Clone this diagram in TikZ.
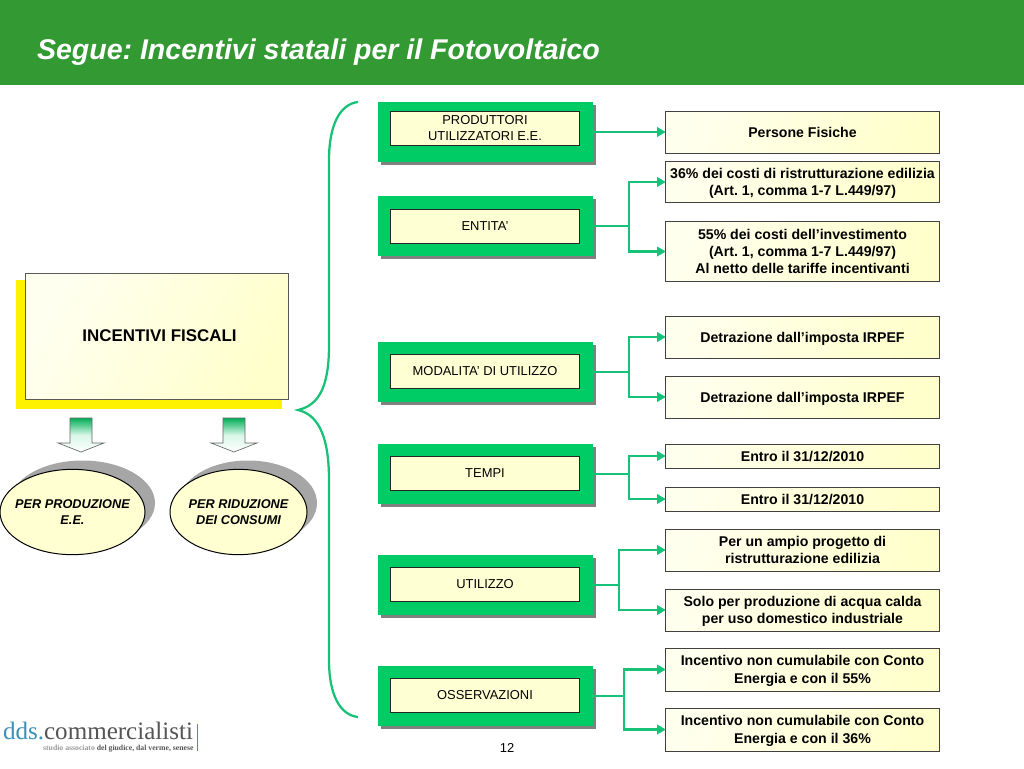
\documentclass[tikz,border=0pt]{standalone}
\usepackage{fontspec}
\setmainfont{Liberation Sans}
\newfontfamily\logofont{Liberation Serif}
\usetikzlibrary{shadows,arrows.meta,calc,shapes.geometric}
\definecolor{headgreen}{HTML}{339933}
\definecolor{boxgreen}{HTML}{00CC66}
\definecolor{linegreen}{HTML}{17C278}
\definecolor{paleyellow}{HTML}{FFFFCC}
\definecolor{logoblue}{HTML}{3C8FB8}
\definecolor{logogray}{HTML}{555555}
\tikzset{
  x=0.75pt,y=-0.75pt,
  every node/.style={inner sep=0pt,outer sep=0pt,align=center,font=\fontsize{9.7}{12.4}\selectfont\frenchspacing},
  greenbox/.style={fill=boxgreen,minimum width=161.25pt,minimum height=45pt,
    drop shadow={shadow xshift=2.5pt,shadow yshift=-2.5pt,opacity=1,fill=black!50}},
  innerbox/.style={draw=black!85,line width=0.7pt,fill=paleyellow!85,minimum width=142pt,minimum height=25.5pt,text depth=-1.5pt},
  infobox/.style={draw=black!75,line width=0.75pt,left color=white!65!paleyellow,right color=paleyellow,shading angle=70,
    minimum width=205pt,text depth=0pt,font=\fontsize{10.6}{13}\selectfont\bfseries\frenchspacing},
  conn/.style={draw=linegreen,line width=1.7pt},
  connarrow/.style={conn,-{Triangle[length=6.5pt,width=7pt]}},
  downarrow/.style={draw=black!60,line width=0.5pt,top color=boxgreen!85!black,bottom color=white,middle color=boxgreen!15},
  oval/.style={ellipse,draw=black,line width=0.75pt,fill=paleyellow!90,minimum height=64pt},
  ovaltext/.style={text depth=0pt,font=\fontsize{9.55}{12}\selectfont\bfseries\itshape},
  ovalshadow/.style={fill=black!35,draw=none}
}
\begin{document}
\begin{tikzpicture}
\useasboundingbox (0,0) rectangle (1024,768);
% header
\fill[headgreen] (0,0) rectangle (1024,85);
\node[anchor=west,text=white,text depth=0pt,font=\fontsize{21.4}{24}\selectfont\bfseries\itshape\frenchspacing] (title) at (37,49.5) {Segue: Incentivi statali per il Fotovoltaico};
% main box
\fill[yellow] (16,280) rectangle (282,409);
\node[draw=black!65,line width=0.75pt,left color=white!70!paleyellow,right color=paleyellow,shading angle=60,
  minimum width=197.5pt,minimum height=94.5pt,text depth=-1.5pt,font=\fontsize{12.7}{14}\selectfont\bfseries] (main) at (157,336) {\hspace*{3.8pt}INCENTIVI FISCALI};
% block arrows
\foreach \cx in {81,234}{
  \draw[downarrow] (\cx-11,418) -- (\cx+11,418) -- (\cx+11,443) -- (\cx+23,443) -- (\cx,452) -- (\cx-23,443) -- (\cx-11,443) -- cycle;
}
% ovals
\fill[ovalshadow] (82.5,503) ellipse [x radius=72.5,y radius=42.5];
\fill[ovalshadow] (248,503) ellipse [x radius=69,y radius=42.5];
\node[oval,minimum width=108.75pt] (o1) at (72.5,512) {};
\node[oval,minimum width=102.75pt] (o2) at (238.5,512) {};
\node[ovaltext] (ot1) at (o1) {PER PRODUZIONE\\E.E.};
\node[ovaltext] (ot2) at (o2) {PER RIDUZIONE\\DEI CONSUMI};
% green boxes
\node[greenbox] (g1) at (485.5,132) {};
\node[greenbox] (g2) at (485.5,226) {};
\node[greenbox] (g3) at (485.5,372) {};
\node[greenbox] (g4) at (485.5,474) {};
\node[greenbox] (g5) at (485.5,585) {};
\node[greenbox] (g6) at (485.5,696) {};
\node[innerbox] (i1) at (485,128) {PRODUTTORI\\UTILIZZATORI E.E.};
\node[innerbox] (i2) at (485,226) {};
\node[text depth=-1.5pt] (t2) at (485,226) {ENTITA’};
\node[innerbox] (i3) at (485,371) {MODALITA’ DI UTILIZZO};
\node[innerbox] (i4) at (485,473) {TEMPI};
\node[innerbox] (i5) at (485,584) {UTILIZZO};
\node[innerbox] (i6) at (485,695) {OSSERVAZIONI};
% info boxes
\node[infobox,minimum height=31.5pt] (r1) at (802.5,132) {Persone Fisiche};
\node[infobox,minimum height=30.75pt] (r2) at (802.5,182) {36\% dei costi di ristrutturazione edilizia\\(Art. 1, comma 1-7 L.449/97)};
\node[infobox,minimum height=45pt] (r3) at (802.5,251.5) {55\% dei costi dell’investimento\\(Art. 1, comma 1-7 L.449/97)\\Al netto delle tariffe incentivanti};
\node[infobox,minimum height=31.5pt] (r4) at (802.5,337) {Detrazione dall’imposta IRPEF};
\node[infobox,minimum height=31.5pt] (r5) at (802.5,397) {Detrazione dall’imposta IRPEF};
\node[infobox,minimum height=18pt] (r6) at (802.5,456) {Entro il 31/12/2010};
\node[infobox,minimum height=18pt] (r7) at (802.5,499) {Entro il 31/12/2010};
\node[infobox,minimum height=31.5pt] (r8) at (802.5,550) {Per un ampio progetto di\\ristrutturazione edilizia};
\node[infobox,minimum height=31.5pt] (r9) at (802.5,610) {Solo per produzione di acqua calda\\per uso domestico industriale};
\node[infobox,minimum height=32.25pt] (r10) at (802.5,669.5) {Incentivo non cumulabile con Conto\\Energia e con il 55\%};
\node[infobox,minimum height=32.25pt] (r11) at (802.5,729.5) {Incentivo non cumulabile con Conto\\Energia e con il 36\%};
% connectors
\draw[connarrow] (g1.east) -- (r1.west);
\coordinate (j2) at (629,226);
\coordinate (j3) at (629,372);
\coordinate (j4) at (629,474);
\coordinate (j5) at (619,585);
\coordinate (j6) at (624,696);
\draw[conn] (g2.east) -- (j2);
\draw[connarrow] (j2) |- (r2.west);
\draw[connarrow] (j2) |- (r3.west);
\draw[conn] (g3.east) -- (j3);
\draw[connarrow] (j3) |- (r4.west);
\draw[connarrow] (j3) |- (r5.west);
\draw[conn] (g4.east) -- (j4);
\draw[connarrow] (j4) |- (r6.west);
\draw[connarrow] (j4) |- (r7.west);
\draw[conn] (g5.east) -- (j5);
\draw[connarrow] (j5) |- (r8.west);
\draw[connarrow] (j5) |- (r9.west);
\draw[conn] (g6.east) -- (j6);
\draw[connarrow] (j6) |- (r10.west);
\draw[connarrow] (j6) |- (r11.west);
% brace
\draw[conn] (358,102) .. controls (340,104) and (329,125) .. (329,160)
  -- (329,345) .. controls (329,385) and (320,405) .. (298,410)
  .. controls (320,415) and (329,440) .. (329,480)
  -- (329,660) .. controls (329,695) and (340,715) .. (358,717);
% footer
\node[anchor=base west,text=logoblue,font=\logofont\fontsize{18.8}{20}\selectfont] (logo1) at (3,739) {dds.};
\node[anchor=base west,text=logogray,font=\logofont\fontsize{18.8}{20}\selectfont] (logo2) at (logo1.base east) {commercialisti};
\node[anchor=base east,font=\logofont\bfseries\fontsize{5.8}{6}\selectfont] (logo3) at (193.5,750) {\textcolor{black!40}{studio associato} \textcolor{logogray}{del giudice, dal verme, senese}};
\draw[logoblue,line width=1pt] (197.5,724) -- (197.5,751);
\node[font=\fontsize{9.7}{12}\selectfont] (page) at (507,748) {12};
\end{tikzpicture}
\end{document}
